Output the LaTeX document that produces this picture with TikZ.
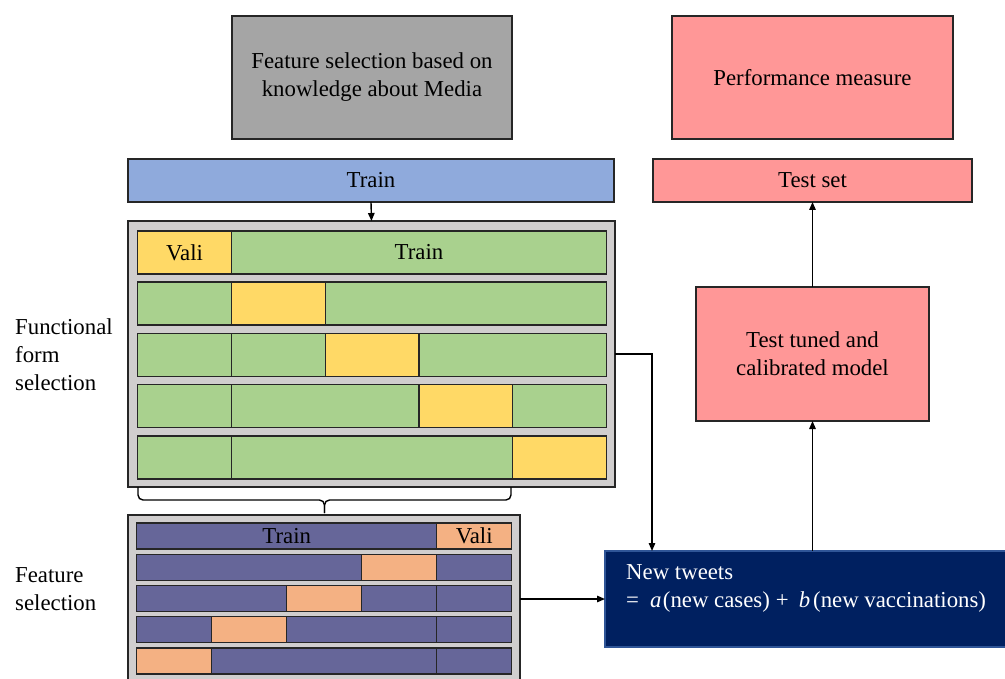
\documentclass[tikz,border=0pt]{standalone}
\usepackage{fontspec}
\setmainfont{Liberation Serif}
\usetikzlibrary{arrows.meta}

\definecolor{cMedia}{HTML}{A5A5A5}
\definecolor{cPink}{HTML}{FF9797}
\definecolor{cBlue}{HTML}{8FAADC}
\definecolor{cCont}{HTML}{D0CECE}
\definecolor{cGreen}{HTML}{A9D18E}
\definecolor{cYellow}{HTML}{FFD966}
\definecolor{cPurple}{HTML}{666699}
\definecolor{cOrange}{HTML}{F4B183}
\definecolor{cNavy}{HTML}{002060}
\definecolor{cNavyEdge}{HTML}{2F5597}
\definecolor{cEdge}{HTML}{262626}

% rectangular block given by its top-left and bottom-right corners
\newcommand\blk[7]{%
  \node[box,#6,minimum width={#4-#2},minimum height={#5-#3}] (#1) at (#2,#3) {#7};}

\begin{document}
\begin{tikzpicture}[x=1pt,y=-1pt,
  font=\fontsize{22.8}{28}\selectfont,
  box/.style={draw=cEdge, line width=1.1pt, inner sep=0pt, outer sep=0pt,
    anchor=north west, align=center},
  cellbox/.style={box, line width=1.4pt},
  arr/.style={-{Triangle[length=8pt,width=6.5pt]}, line width=1.4pt},
  bracepath/.style={line width=1.4pt, rounded corners=5pt},
  lbl/.style={anchor=west, align=left, inner sep=0pt}]
\useasboundingbox (0,0) rectangle (1005,679);
\clip (0,0) rectangle (1005,679);

% top row of blocks
\blk{media}{232}{16}{512}{139}{fill=cMedia}{Feature selection based on\\knowledge about Media}
\blk{perf}{672}{16}{953}{139}{fill=cPink}{Performance measure}
\blk{train}{128}{159}{614}{202}{fill=cBlue}{Train}
\blk{testset}{653}{159}{972}{202}{fill=cPink}{Test set}

% functional form selection: 5-fold cross validation
\blk{ffbox}{128}{221}{615}{487}{fill=cCont, line width=1.4pt}{}
\def\ga{137.7}\def\gb{231.5}\def\gc{325.2}\def\gd{419}\def\ge{512.7}\def\gf{606.5}
\blk{ga1}{\ga}{231}{\gb}{274}{cellbox,fill=cYellow}{Vali}
\blk{gb1}{\gb}{231}{\gf}{274}{cellbox,fill=cGreen}{Train}
\blk{ga2}{\ga}{282.2}{\gb}{325.2}{cellbox,fill=cGreen}{}
\blk{gb2}{\gb}{282.2}{\gc}{325.2}{cellbox,fill=cYellow}{}
\blk{gc2}{\gc}{282.2}{\gf}{325.2}{cellbox,fill=cGreen}{}
\blk{ga3}{\ga}{333.4}{\gb}{376.4}{cellbox,fill=cGreen}{}
\blk{gb3}{\gb}{333.4}{\gc}{376.4}{cellbox,fill=cGreen}{}
\blk{gc3}{\gc}{333.4}{\gd}{376.4}{cellbox,fill=cYellow}{}
\blk{gd3}{\gd}{333.4}{\gf}{376.4}{cellbox,fill=cGreen}{}
\blk{ga4}{\ga}{384.6}{\gb}{427.6}{cellbox,fill=cGreen}{}
\blk{gb4}{\gb}{384.6}{\gd}{427.6}{cellbox,fill=cGreen}{}
\blk{gd4}{\gd}{384.6}{\ge}{427.6}{cellbox,fill=cYellow}{}
\blk{ge4}{\ge}{384.6}{\gf}{427.6}{cellbox,fill=cGreen}{}
\blk{ga5}{\ga}{435.8}{\gb}{478.8}{cellbox,fill=cGreen}{}
\blk{gb5}{\gb}{435.8}{\ge}{478.8}{cellbox,fill=cGreen}{}
\blk{ge5}{\ge}{435.8}{\gf}{478.8}{cellbox,fill=cYellow}{}

% brace joining the two selection stages
\coordinate (brL) at (138,487);
\coordinate (brR) at (511,487);
\coordinate (brTip) at (324.5,513);
\draw[bracepath] (brL) -- (brL |- 0,500) -- (brTip |- 0,500) -- (brTip);
\draw[bracepath] (brR) -- (brR |- 0,500) -- (brTip |- 0,500) -- (brTip);

% feature selection: 5-fold cross validation
\blk{fsbox}{128}{515}{520}{700}{fill=cCont, line width=1.4pt}{}
\def\pa{136.7}\def\pb{211.7}\def\pc{286.7}\def\pd{361.7}\def\pe{436.7}\def\pf{511.7}
\blk{pa1}{\pa}{523}{\pe}{549}{cellbox,fill=cPurple}{Train}
\blk{pe1}{\pe}{523}{\pf}{549}{cellbox,fill=cOrange}{Vali}
\blk{pa2}{\pa}{554.2}{\pd}{580.2}{cellbox,fill=cPurple}{}
\blk{pd2}{\pd}{554.2}{\pe}{580.2}{cellbox,fill=cOrange}{}
\blk{pe2}{\pe}{554.2}{\pf}{580.2}{cellbox,fill=cPurple}{}
\blk{pa3}{\pa}{585.4}{\pc}{611.4}{cellbox,fill=cPurple}{}
\blk{pc3}{\pc}{585.4}{\pd}{611.4}{cellbox,fill=cOrange}{}
\blk{pd3}{\pd}{585.4}{\pe}{611.4}{cellbox,fill=cPurple}{}
\blk{pe3}{\pe}{585.4}{\pf}{611.4}{cellbox,fill=cPurple}{}
\blk{pa4}{\pa}{616.6}{\pb}{642.6}{cellbox,fill=cPurple}{}
\blk{pb4}{\pb}{616.6}{\pc}{642.6}{cellbox,fill=cOrange}{}
\blk{pc4}{\pc}{616.6}{\pe}{642.6}{cellbox,fill=cPurple}{}
\blk{pe4}{\pe}{616.6}{\pf}{642.6}{cellbox,fill=cPurple}{}
\blk{pa5}{\pa}{647.8}{\pb}{673.8}{cellbox,fill=cOrange}{}
\blk{pb5}{\pb}{647.8}{\pe}{673.8}{cellbox,fill=cPurple}{}
\blk{pe5}{\pe}{647.8}{\pf}{673.8}{cellbox,fill=cPurple}{}

% stage labels
\node[lbl] (fflabel) at (15,355) {Functional\\form\\selection};
\node[lbl] (fslabel) at (15,589) {Feature\\selection};

% model and evaluation blocks
\blk{tuned}{696}{287}{929}{421}{fill=cPink}{Test tuned and\\calibrated model}
\blk{tweets}{605}{551}{1012}{647}{fill=cNavy, draw=cNavyEdge}{}
\node[lbl, text=white] (tweetstext) at (626,588)
  {New tweets\\=\hspace{11pt}\textit{a}\hspace{1.5pt}(new cases)\hspace{6pt}+\hspace{10pt}\textit{b}\hspace{3pt}(new vaccinations)};

% connectors
\coordinate (bend) at (652,354);
\draw[arr] (train.south) -- (ffbox.north);
\draw[arr] (ffbox.east |- bend) -- (bend) -- (bend |- tweets.north);
\draw[arr] (fsbox.east |- tweets.west) -- (tweets.west);
\draw[arr] (tweets.north -| tuned.south) -- (tuned.south);
\draw[arr] (tuned.north) -- (testset.south);
\end{tikzpicture}
\end{document}
